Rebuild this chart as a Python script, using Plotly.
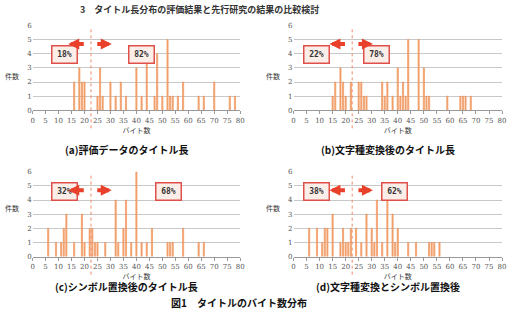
import plotly.graph_objects as go

W, H = 510, 323

# ---- data: byte-length -> count ----
a_x = [16, 18, 19, 20, 25, 26, 27, 30, 32, 34, 36, 40, 42, 44, 47, 48, 50, 52, 53, 54, 56, 58, 64, 66, 70, 76, 78]
a_y = [2, 3, 2, 2, 1, 3, 1, 2, 1, 2, 1, 3, 1, 4, 1, 4, 1, 5, 1, 1, 1, 2, 1, 1, 2, 1, 1]

b_x = [15, 16, 18, 19, 20, 22, 25, 26, 27, 28, 34, 35, 36, 38, 40, 41, 42, 43, 44, 48, 50, 51, 52, 59, 64, 65, 66, 68]
b_y = [1, 2, 3, 2, 1, 2, 2, 2, 1, 1, 2, 1, 2, 1, 3, 1, 2, 1, 5, 5, 3, 1, 1, 1, 1, 1, 1, 1]

c_x = [6, 9, 11, 12, 13, 16, 19, 20, 22, 23, 24, 25, 28, 32, 33, 35, 36, 38, 40, 42, 44, 46, 52, 53, 54, 58, 64, 66]
c_y = [2, 1, 1, 2, 3, 1, 3, 1, 2, 2, 1, 1, 1, 4, 1, 2, 4, 1, 6, 1, 1, 2, 1, 1, 1, 2, 1, 1]

d_x = [6, 9, 11, 12, 13, 15, 18, 19, 20, 21, 22, 24, 26, 28, 30, 31, 32, 34, 36, 38, 39, 40, 44, 47, 52, 53, 54, 56]
d_y = [2, 2, 1, 2, 2, 3, 1, 2, 1, 1, 2, 2, 1, 3, 2, 1, 4, 1, 5, 3, 1, 2, 1, 1, 1, 1, 1, 1]

left_pct = ["18%", "22%", "32%", "38%"]
right_pct = ["82%", "78%", "68%", "62%"]
captions = ["(a)評価データのタイトル長", "(b)文字種変換後のタイトル長",
            "(c)シンボル置換後のタイトル長", "(d)文字種変換とシンボル置換後"]
split_at = 22.5
x_ticks = list(range(0, 81, 5))
y_ticks = list(range(0, 7))
x_title = "バイト数"
y_title = "件数"
fig_caption = "図1　タイトルのバイト数分布"
top_text = "3　タイトル長分布の評価結果と先行研究の結果の比較検討"

series = [(a_x, a_y), (b_x, b_y), (c_x, c_y), (d_x, d_y)]

# ---- layout (pixels) ----
def px(x):
    return x / W

def py(y):
    return 1 - y / H

cols = [(31, 241), (295, 506)]
rows = [(22, 109), (172, 259)]
right_box_x = [128, 393, 155, 411]

FONT = "Noto Sans CJK JP"
fig = go.Figure()
layout = dict(width=W, height=H, margin=dict(l=0, r=0, t=0, b=0),
              paper_bgcolor="white", plot_bgcolor="white", showlegend=False,
              font=dict(family=FONT, color="#333"))
shapes = []
annotations = []

for i, (xs, ys) in enumerate(series):
    r, c = divmod(i, 2)
    x0, x1 = cols[c]
    yt, yb = rows[r]
    n = i + 1
    xa = "x" if n == 1 else f"x{n}"
    ya = "y" if n == 1 else f"y{n}"
    fig.add_trace(go.Bar(x=xs, y=ys, xaxis=xa, yaxis=ya, width=0.45,
                         marker=dict(color="#F5AE7E", line=dict(color="#EE8A4C", width=0.6))))
    layout["xaxis" if n == 1 else f"xaxis{n}"] = dict(
        domain=[px(x0), px(x1)], range=[0, 80], anchor=ya,
        tickvals=x_ticks, ticks="outside", ticklen=3, tickcolor="#999",
        showline=True, linecolor="#999", linewidth=1, showgrid=False,
        tickfont=dict(size=7, color="#555", family="DejaVu Serif"),
        title=dict(text=x_title, font=dict(size=7, color="#333"), standoff=4))
    layout["yaxis" if n == 1 else f"yaxis{n}"] = dict(
        domain=[py(yb), py(yt)], range=[0, 6], anchor=xa,
        tickvals=y_ticks, showgrid=True, gridcolor="#C8C8C8", gridwidth=1,
        zeroline=False, showline=False,
        tickfont=dict(size=7, color="#555", family="DejaVu Serif"))
    # y title (horizontal)
    annotations.append(dict(text=y_title, xref="paper", yref="paper",
                            x=px(x0 - 21), y=py((yt + yb) / 2 + 1), showarrow=False,
                            font=dict(size=7, color="#333"), xanchor="center"))
    # split dashed line
    shapes.append(dict(type="line", xref=xa, yref="paper", x0=split_at, x1=split_at,
                       y0=py(yt + 4), y1=py(yb + 19),
                       line=dict(color="#F08A6A", width=1, dash="dot")))
    # percentage boxes
    lx = x0 + 19 if c == 0 else x0 + 23
    by = yt + 20
    for txt, bx in ((left_pct[i], lx), (right_pct[i], right_box_x[i])):
        annotations.append(dict(text=f"<b>{txt}</b>", xref="paper", yref="paper",
                                x=px(bx), y=py(by), showarrow=False,
                                font=dict(size=8, color="#333", family="DejaVu Sans Mono"),
                                bgcolor="#FBEDE8", bordercolor="#E0504A", borderwidth=1.5,
                                borderpad=3, width=18, height=10))
    # arrows (pointing outward from the split line)
    mxp = x0 + (x1 - x0) * split_at / 80
    annotations.append(dict(text="", xref="paper", yref="paper", x=px(mxp - 23), y=py(by - 1),
                            ax=17, ay=0, showarrow=True, arrowhead=2, arrowsize=0.55,
                            arrowwidth=4, arrowcolor="#E8402A"))
    annotations.append(dict(text="", xref="paper", yref="paper", x=px(mxp + 21), y=py(by - 1),
                            ax=-16, ay=0, showarrow=True, arrowhead=2, arrowsize=0.55,
                            arrowwidth=4, arrowcolor="#E8402A"))
    # caption
    annotations.append(dict(text=f"<b>{captions[i]}</b>", xref="paper", yref="paper",
                            x=px((x0 + x1) / 2 - 10), y=py(yb + 40), showarrow=False,
                            font=dict(size=10, color="#111"), xanchor="center"))

annotations.append(dict(text=f"<b>{fig_caption}</b>", xref="paper", yref="paper",
                        x=px(240), y=py(316), showarrow=False,
                        font=dict(size=10, color="#111"), xanchor="center"))
annotations.append(dict(text=f"<b>{top_text}</b>", xref="paper", yref="paper",
                        x=px(200), y=py(6), showarrow=False, yanchor="middle",
                        font=dict(size=9, color="#333"), xanchor="center"))

layout["shapes"] = shapes
layout["annotations"] = annotations
fig.update_layout(**layout)
fig.write_html("out.html")
